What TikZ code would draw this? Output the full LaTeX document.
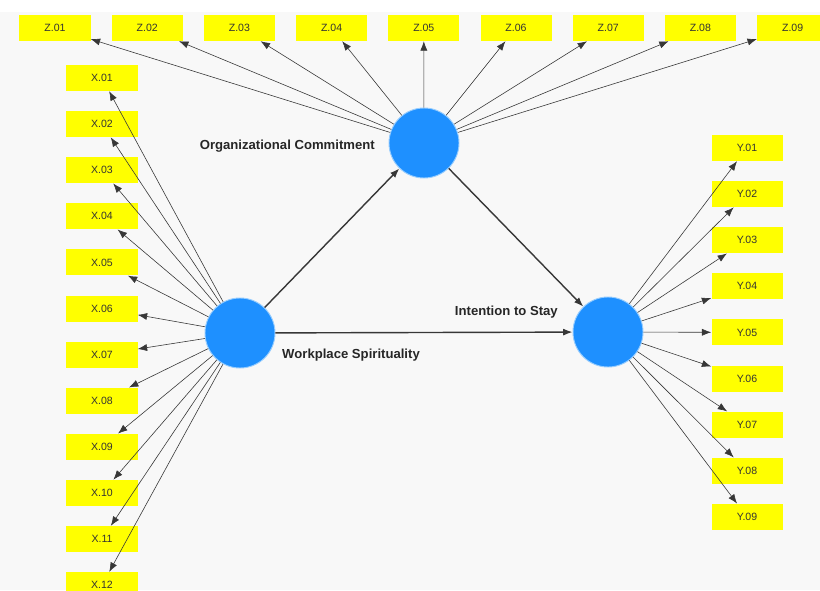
\documentclass[tikz,border=0pt]{standalone}
\usepackage{fontspec}
\setmainfont{Liberation Sans}
\usetikzlibrary{arrows.meta}
\definecolor{plsblue}{RGB}{30,144,255}
\definecolor{plshalo}{RGB}{150,205,255}
\definecolor{plsyellow}{RGB}{255,255,0}
\definecolor{plsbg}{RGB}{248,248,248}
\definecolor{plsline}{RGB}{55,55,55}
\begin{document}
\begin{tikzpicture}[x=0.03cm,y=-0.03cm,>={Latex[length=8pt,width=6pt]},line join=bevel,
  ind/.style={fill=plsyellow,minimum width=2.13cm,minimum height=0.78cm,inner sep=0pt,font=\fontsize{9}{10}\selectfont,text=black!80},
  lv/.style={circle,fill=plsblue,draw=plshalo,line width=0.8pt,minimum size=2.1cm,inner sep=0pt},
  lvname/.style={font=\bfseries\fontsize{11.2}{13}\selectfont,text=black!85,inner sep=0pt},
  loading/.style={plsline,line width=0.5pt,->},
  structural/.style={plsline,line width=1.2pt,->}]
%%
  \useasboundingbox (0,0) rectangle (820,590);
  \fill [plsbg] (0,0) rectangle (820,590);
  \fill [white] (0,0) rectangle (820,12);
%% latent variables
  \node [lv] (lv_oc) at (424,143) {};
  \node [lv] (lv_ws) at (240,333) {};
  \node [lv] (lv_is) at (608,332) {};
  \node [lvname,anchor=east] (name_oc) at (375,146) {Organizational Commitment};
  \node [lvname,anchor=west] (name_ws) at (282,355) {Workplace Spirituality};
  \node [lvname,anchor=east] (name_is) at (558,312) {Intention to Stay};
%% indicators Z
  \node [ind] (ind_z01) at (55,28) {Z.01};
  \node [ind] (ind_z02) at (147.2,28) {Z.02};
  \node [ind] (ind_z03) at (239.4,28) {Z.03};
  \node [ind] (ind_z04) at (331.6,28) {Z.04};
  \node [ind] (ind_z05) at (423.8,28) {Z.05};
  \node [ind] (ind_z06) at (516,28) {Z.06};
  \node [ind] (ind_z07) at (608.2,28) {Z.07};
  \node [ind] (ind_z08) at (700.4,28) {Z.08};
  \node [ind] (ind_z09) at (792.6,28) {Z.09};
%% indicators X
  \node [ind] (ind_x01) at (102,78) {X.01};
  \node [ind] (ind_x02) at (102,124.1) {X.02};
  \node [ind] (ind_x03) at (102,170.2) {X.03};
  \node [ind] (ind_x04) at (102,216.3) {X.04};
  \node [ind] (ind_x05) at (102,262.4) {X.05};
  \node [ind] (ind_x06) at (102,308.5) {X.06};
  \node [ind] (ind_x07) at (102,354.6) {X.07};
  \node [ind] (ind_x08) at (102,400.7) {X.08};
  \node [ind] (ind_x09) at (102,446.8) {X.09};
  \node [ind] (ind_x10) at (102,492.9) {X.10};
  \node [ind] (ind_x11) at (102,539) {X.11};
  \node [ind] (ind_x12) at (102,585.1) {X.12};
%% indicators Y
  \node [ind] (ind_y01) at (747,148) {Y.01};
  \node [ind] (ind_y02) at (747,194.1) {Y.02};
  \node [ind] (ind_y03) at (747,240.2) {Y.03};
  \node [ind] (ind_y04) at (747,286.3) {Y.04};
  \node [ind] (ind_y05) at (747,332.4) {Y.05};
  \node [ind] (ind_y06) at (747,378.5) {Y.06};
  \node [ind] (ind_y07) at (747,424.6) {Y.07};
  \node [ind] (ind_y08) at (747,470.7) {Y.08};
  \node [ind] (ind_y09) at (747,516.8) {Y.09};
%% inner model
  \draw [structural] (lv_ws) edge (lv_oc);
  \draw [structural] (lv_ws) edge (lv_is);
  \draw [structural] (lv_oc) edge (lv_is);
%% outer model
  \draw [loading] (lv_oc) edge (ind_z01);
  \draw [loading] (lv_oc) edge (ind_z02);
  \draw [loading] (lv_oc) edge (ind_z03);
  \draw [loading] (lv_oc) edge (ind_z04);
  \draw [loading] (lv_oc) edge (ind_z05);
  \draw [loading] (lv_oc) edge (ind_z06);
  \draw [loading] (lv_oc) edge (ind_z07);
  \draw [loading] (lv_oc) edge (ind_z08);
  \draw [loading] (lv_oc) edge (ind_z09);
  \draw [loading] (lv_ws) edge (ind_x01);
  \draw [loading] (lv_ws) edge (ind_x02);
  \draw [loading] (lv_ws) edge (ind_x03);
  \draw [loading] (lv_ws) edge (ind_x04);
  \draw [loading] (lv_ws) edge (ind_x05);
  \draw [loading] (lv_ws) edge (ind_x06);
  \draw [loading] (lv_ws) edge (ind_x07);
  \draw [loading] (lv_ws) edge (ind_x08);
  \draw [loading] (lv_ws) edge (ind_x09);
  \draw [loading] (lv_ws) edge (ind_x10);
  \draw [loading] (lv_ws) edge (ind_x11);
  \draw [loading] (lv_ws) edge (ind_x12);
  \draw [loading] (lv_is) edge (ind_y01);
  \draw [loading] (lv_is) edge (ind_y02);
  \draw [loading] (lv_is) edge (ind_y03);
  \draw [loading] (lv_is) edge (ind_y04);
  \draw [loading] (lv_is) edge (ind_y05);
  \draw [loading] (lv_is) edge (ind_y06);
  \draw [loading] (lv_is) edge (ind_y07);
  \draw [loading] (lv_is) edge (ind_y08);
  \draw [loading] (lv_is) edge (ind_y09);
\end{tikzpicture}
\end{document}
